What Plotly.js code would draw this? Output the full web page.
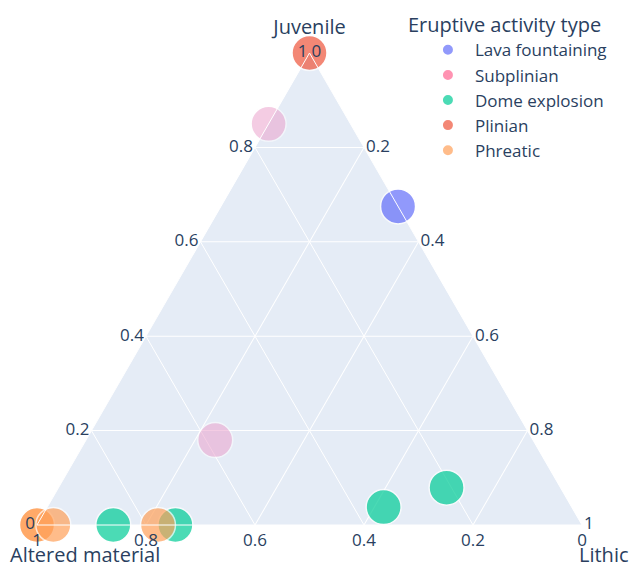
<!DOCTYPE html>
<html>
<head>
<meta charset="utf-8">
<script src="https://cdn.plot.ly/plotly-3.0.1.min.js"></script>
<style>
  html, body { margin: 0; padding: 0; background: #fff; }
  #chart { width: 633px; height: 566px; }
</style>
</head>
<body>
<div id="chart"></div>
<script>
// eruptive activity samples: Juvenile (a), Altered material (b), Lithic (c)
var lavaJuv = [0.675], lavaAlt = [0.0], lavaLit = [0.325];
var subJuv = [0.85, 0.18], subAlt = [0.15, 0.583], subLit = [0.0, 0.237];
var domeJuv = [0.079, 0.038, 0.0, 0.0];
var domeAlt = [0.209, 0.345, 0.86, 0.746];
var domeLit = [0.712, 0.617, 0.14, 0.254];
var plinJuv = [1.0], plinAlt = [0.0], plinLit = [0.0];
var phreJuv = [0.0, 0.0, 0.0, 0.0];
var phreAlt = [1.0, 1.0, 0.97, 0.778];
var phreLit = [0.0, 0.0, 0.03, 0.222];

var colors = {
    lava: '#636efa',
    sub: '#FF6692',
    subPoints: '#EB9BC9',
    dome: '#00cc96',
    plin: '#EF553B',
    phre: '#FFA15A'
}

function series(name, a, b, c, color, opacity, showlegend) {
    return {
        type: 'scatterternary',
        mode: 'markers',
        name: name,
        showlegend: showlegend,
        cliponaxis: false,
        a: a,
        b: b,
        c: c,
        marker: {
            color: color,
            size: 35,
            opacity: opacity,
            line: { color: 'white', width: 1.5 }
        }
    }
}

var data = [
    series('Lava fountaining', lavaJuv, lavaAlt, lavaLit, colors.lava, 0.7, true),
    // legend entry only, the subplinian points are paler on the chart
    series('Subplinian', [null], [null], [null], colors.sub, 0.7, true),
    series('Subplinian', subJuv, subAlt, subLit, colors.subPoints, 0.5, false),
    series('Dome explosion', domeJuv, domeAlt, domeLit, colors.dome, 0.7, true),
    series('Plinian', plinJuv, plinAlt, plinLit, colors.plin, 0.7, true),
    series('Phreatic', phreJuv, phreAlt, phreLit, colors.phre, 0.7, true)
]

function axis(title) {
    return {
        title: { text: title },
        gridcolor: 'white',
        linecolor: 'white',
        ticks: '',
        dtick: 0.2
    }
}

var layout = {
    width: 633,
    height: 566,
    font: { family: '"Open Sans", verdana, arial, sans-serif', size: 17, color: '#2a3f5f' },
    paper_bgcolor: 'white',
    margin: { l: 10, r: 24, t: 53, b: 41, autoexpand: false },
    ternary: {
        domain: { x: [0, 1], y: [0, 1] },
        bgcolor: '#E5ECF6',
        sum: 1,
        aaxis: axis('Juvenile'),
        baxis: axis(''),
        caxis: axis('')
    },
    // corner titles placed like the reference
    annotations: [
        { text: 'Altered material', xref: 'paper', yref: 'paper', x: -0.004, y: -0.062,
          xanchor: 'left', yanchor: 'middle', showarrow: false, font: { size: 20 } },
        { text: 'Lithic', xref: 'paper', yref: 'paper', x: 0.946, y: -0.062,
          xanchor: 'left', yanchor: 'middle', showarrow: false, font: { size: 20 } }
    ],
    legend: {
        title: { text: 'Eruptive activity type' },
        itemsizing: 'constant',
        itemwidth: 44,
        indentation: 15,
        tracegroupgap: 0,
        x: 0.661,
        xanchor: 'left',
        y: 1.099,
        yanchor: 'top',
        bgcolor: 'rgba(0,0,0,0)'
    },
    showlegend: true
}

Plotly.newPlot('chart', data, layout, { displayModeBar: false })
</script>
</body>
</html>
